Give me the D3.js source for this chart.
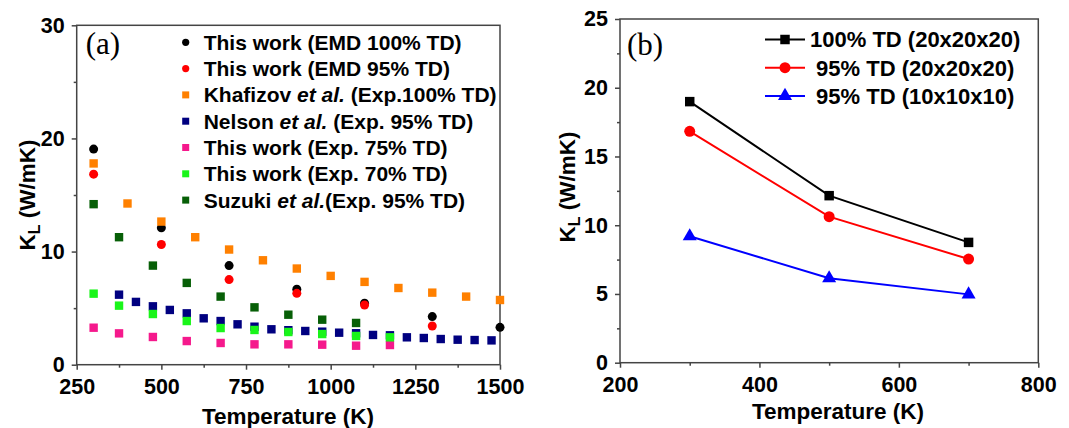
<!DOCTYPE html>
<html>
<head>
<meta charset="utf-8">
<script src="https://cdn.jsdelivr.net/npm/d3@7"></script>
<style>
  body { margin: 0; background: #fff; }
  text { font-family: "Liberation Sans", Arial, sans-serif; font-weight: bold; fill: #000; }
  .serif { font-family: "Liberation Serif", "Times New Roman", serif; font-weight: normal; }
</style>
</head>
<body>
<div id="chart"></div>
<script>
// ---- panel (a) data: temperature (K) and thermal conductivity (W/mK)
var emd100T = [300, 500, 700, 900, 1100, 1300, 1500];
var emd100K = [19.06, 12.1, 8.76, 6.67, 5.43, 4.25, 3.3];
var emd95T = [300, 500, 700, 900, 1100, 1300];
var emd95K = [16.84, 10.62, 7.52, 6.31, 5.28, 3.42];
var khafT = [300, 400, 500, 600, 700, 800, 900, 1000, 1100, 1200, 1300, 1400, 1500];
var khafK = [17.79, 14.25, 12.65, 11.27, 10.18, 9.23, 8.5, 7.85, 7.32, 6.78, 6.37, 6.02, 5.72];
var nelsonT = [375, 425, 475, 525, 575, 625, 675, 725, 775, 825, 875, 925, 975, 1025, 1075, 1125, 1175, 1225, 1275, 1325, 1375, 1425, 1475];
var nelsonK = [6.19, 5.55, 5.16, 4.84, 4.54, 4.1, 3.86, 3.57, 3.36, 3.13, 3.05, 2.98, 2.92, 2.83, 2.78, 2.63, 2.6, 2.42, 2.36, 2.27, 2.21, 2.18, 2.15];
var exp75T = [300, 375, 475, 575, 675, 775, 875, 975, 1075, 1175];
var exp75K = [3.27, 2.77, 2.45, 2.09, 1.92, 1.8, 1.8, 1.77, 1.68, 1.74];
var exp70T = [300, 375, 475, 575, 675, 775, 875, 975, 1075, 1175];
var exp70K = [6.28, 5.22, 4.48, 3.86, 3.24, 3.07, 2.89, 2.71, 2.54, 2.42];
var suzukiT = [300, 375, 475, 575, 675, 775, 875, 975, 1075];
var suzukiK = [14.19, 11.27, 8.76, 7.23, 6.02, 5.07, 4.42, 3.98, 3.69];

var xTicksA = [250, 500, 750, 1000, 1250, 1500];
var yTicksA = [0, 10, 20, 30];

// ---- panel (b) data
var simT = [300, 500, 700];
var td100K = [18.99, 12.15, 8.75];
var td95K = [16.83, 10.62, 7.54];
var td95smallK = [9.2, 6.14, 4.97];

var xTicksB = [200, 400, 600, 800];
var yTicksB = [0, 5, 10, 15, 20, 25];

var svg = d3.select("#chart").append("svg")
    .attr("width", 1069)
    .attr("height", 428);

function zip(t, k) {
    return t.map(function (d, i) { return { t: d, k: k[i] }; });
}

// draws frame, ticks and labels of one panel
function drawAxes(g, x, y, xTicks, xMinor, yTicks, yMinor) {
    var w = x.range()[1], h = y.range()[0];

    g.append("g")
        .attr("transform", `translate(0, ${h})`)
        .call(d3.axisBottom(x).tickValues(xMinor).tickSize(3).tickFormat(""));
    g.append("g")
        .call(d3.axisLeft(y).tickValues(yMinor).tickSize(3).tickFormat(""));

    g.append("g")
        .attr("transform", `translate(0, ${h})`)
        .call(d3.axisBottom(x).tickValues(xTicks).tickFormat(d3.format("d"))
            .tickSize(5).tickSizeOuter(0).tickPadding(9));
    g.append("g")
        .call(d3.axisLeft(y).tickValues(yTicks).tickFormat(d3.format("d"))
            .tickSize(5).tickSizeOuter(0).tickPadding(7));

    g.selectAll(".domain").remove();
    g.selectAll(".tick text").attr("font-size", 21.5).attr("font-family", null);
    g.selectAll(".tick line").attr("stroke", "#444").attr("stroke-width", 1.5);

    g.append("rect")
        .attr("width", w)
        .attr("height", h)
        .attr("fill", "none")
        .attr("stroke", "#444")
        .attr("stroke-width", 1.5);
}

function yTitle(g, tx, ty) {
    var t = g.append("text")
        .attr("transform", `translate(${tx}, ${ty}) rotate(-90)`)
        .attr("text-anchor", "middle")
        .attr("font-size", 22.5);
    t.append("tspan").text("K");
    t.append("tspan").attr("font-size", 16).attr("dy", 5).text("L");
    t.append("tspan").attr("dy", -5).text(" (W/mK)");
}

// ================= panel (a)
var gA = svg.append("g").attr("transform", "translate(76.7, 25.3)");
var xA = d3.scaleLinear().domain([250, 1500]).range([0, 423.3]);
var yA = d3.scaleLinear().domain([0, 30]).range([339.4, 0]);

var xMinorA = d3.range(375, 1500, 250);
var yMinorA = [5, 15, 25];
drawAxes(gA, xA, yA, xTicksA, xMinorA, yTicksA, yMinorA);

var seriesA = [
    { data: zip(emd100T, emd100K), color: "#000000", shape: "circle", label: ["This work (EMD 100% TD)"] },
    { data: zip(emd95T, emd95K), color: "#ff0000", shape: "circle", label: ["This work (EMD 95% TD)"] },
    { data: zip(khafT, khafK), color: "#ff8000", shape: "square", label: ["Khafizov ", "et al.", " (Exp.100% TD)"] },
    { data: zip(nelsonT, nelsonK), color: "#000080", shape: "square", label: ["Nelson ", "et al.", " (Exp. 95% TD)"] },
    { data: zip(exp75T, exp75K), color: "#f5198c", shape: "square", label: ["This work (Exp. 75% TD)"] },
    { data: zip(exp70T, exp70K), color: "#19f519", shape: "square", label: ["This work (Exp. 70% TD)"] },
    { data: zip(suzukiT, suzukiK), color: "#075f07", shape: "square", label: ["Suzuki ", "et al.", "(Exp. 95% TD)"] }
];

var sq = 8.4;
seriesA.forEach(function (s) {
    var grp = gA.append("g").attr("fill", s.color);
    if (s.shape === "circle") {
        grp.selectAll("circle").data(s.data).enter().append("circle")
            .attr("cx", d => xA(d.t))
            .attr("cy", d => yA(d.k))
            .attr("r", 4.5);
    } else {
        grp.selectAll("rect").data(s.data).enter().append("rect")
            .attr("x", d => xA(d.t) - sq / 2)
            .attr("y", d => yA(d.k) - sq / 2)
            .attr("width", sq)
            .attr("height", sq);
    }
});

// legend (a)
var legA = gA.append("g").attr("transform", "translate(109, 17)");
seriesA.forEach(function (s, i) {
    var row = legA.append("g").attr("transform", `translate(0, ${i * 26.3})`);
    if (s.shape === "circle") {
        row.append("circle").attr("r", 3.6).attr("fill", s.color);
    } else {
        row.append("rect").attr("x", -3.5).attr("y", -3.5).attr("width", 7).attr("height", 7).attr("fill", s.color);
    }
    var t = row.append("text").attr("x", 18).attr("dy", "0.36em").attr("font-size", 21);
    s.label.forEach(function (part, j) {
        t.append("tspan").attr("font-style", j === 1 ? "italic" : null).text(part);
    });
});

gA.append("text").attr("class", "serif")
    .attr("x", 9).attr("y", 29)
    .attr("font-size", 31)
    .text("(a)");

yTitle(svg, 35, 195);
svg.append("text")
    .attr("x", 288).attr("y", 424)
    .attr("text-anchor", "middle")
    .attr("font-size", 22.5)
    .text("Temperature (K)");

// ================= panel (b)
var gB = svg.append("g").attr("transform", "translate(620, 19)");
var xB = d3.scaleLinear().domain([200, 800]).range([0, 418.3]);
var yB = d3.scaleLinear().domain([0, 25]).range([343.7, 0]);

drawAxes(gB, xB, yB, xTicksB, [300, 500, 700], yTicksB, [2.5, 7.5, 12.5, 17.5, 22.5]);

var seriesB = [
    { data: zip(simT, td100K), color: "#000000", shape: "square", label: "100% TD (20x20x20)" },
    { data: zip(simT, td95K), color: "#ff0000", shape: "circle", label: " 95% TD (20x20x20)" },
    { data: zip(simT, td95smallK), color: "#0000ff", shape: "triangle", label: " 95% TD (10x10x10)" }
];

var line = d3.line().x(d => xB(d.t)).y(d => yB(d.k));
var sym = {
    square: d3.symbol().type(d3.symbolSquare).size(90),
    circle: d3.symbol().type(d3.symbolCircle).size(95),
    triangle: d3.symbol().type(d3.symbolTriangle).size(85)
};

seriesB.forEach(function (s) {
    gB.append("path")
        .datum(s.data)
        .attr("d", line)
        .attr("fill", "none")
        .attr("stroke", s.color)
        .attr("stroke-width", 2);
    gB.selectAll(null).data(s.data).enter().append("path")
        .attr("transform", d => `translate(${xB(d.t)}, ${yB(d.k)})`)
        .attr("d", sym[s.shape])
        .attr("fill", s.color);
});

var legB = gB.append("g").attr("transform", "translate(145, 20.5)");
seriesB.forEach(function (s, i) {
    var row = legB.append("g").attr("transform", `translate(0, ${i * 28.2})`);
    row.append("line").attr("x1", 0).attr("x2", 40)
        .attr("stroke", s.color).attr("stroke-width", 2);
    row.append("path").attr("transform", "translate(20, 0)").attr("d", sym[s.shape]).attr("fill", s.color);
    row.append("text").attr("x", 45).attr("dy", "0.36em").attr("font-size", 22)
        .attr("xml:space", "preserve")
        .style("white-space", "pre")
        .text(s.label);
});

gB.append("text").attr("class", "serif")
    .attr("x", 7).attr("y", 36)
    .attr("font-size", 31)
    .text("(b)");

yTitle(svg, 575, 187);
svg.append("text")
    .attr("x", 838).attr("y", 419)
    .attr("text-anchor", "middle")
    .attr("font-size", 22.5)
    .text("Temperature (K)");
</script>
</body>
</html>
